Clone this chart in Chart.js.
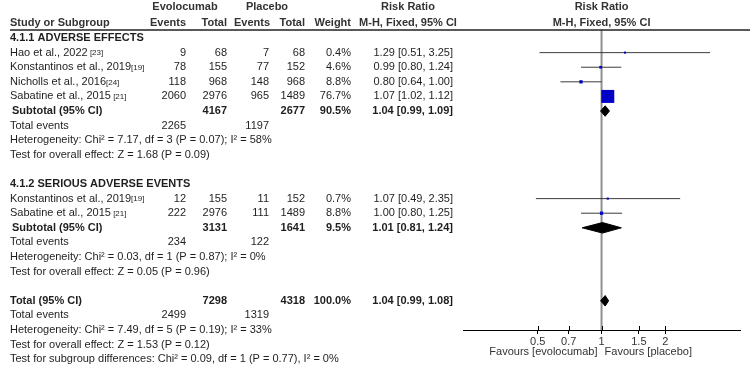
<!DOCTYPE html>
<html>
<head>
<meta charset="utf-8">
<script src="https://cdn.jsdelivr.net/npm/chart.js@4"></script>
<style>
html, body { margin: 0; padding: 0; background: #fff; }
</style>
</head>
<body>
<canvas id="forest" width="750" height="367"></canvas>
<script>
// study level data
var groups = ['4.1.1 ADVERSE EFFECTS', '4.1.2 SERIOUS ADVERSE EVENTS'];
var studies = ['Hao et al., 2022', 'Konstantinos et al., 2019', 'Nicholls et al., 2016', 'Sabatine et al., 2015',
               'Konstantinos et al., 2019', 'Sabatine et al., 2015'];
var refs = [' [23]', '[19]', '[24]', ' [21]', '[19]', ' [21]'];
var studyGroup = [0, 0, 0, 0, 1, 1];
var evoEvents = [9, 78, 118, 2060, 12, 222];
var evoTotal = [68, 155, 968, 2976, 155, 2976];
var plcEvents = [7, 77, 148, 965, 11, 111];
var plcTotal = [68, 152, 968, 1489, 152, 1489];
var weights = [0.4, 4.6, 8.8, 76.7, 0.7, 8.8];
var rr = [1.29, 0.99, 0.80, 1.07, 1.07, 1.00];
var rrLow = [0.51, 0.80, 0.64, 1.02, 0.49, 0.80];
var rrHigh = [3.25, 1.24, 1.00, 1.12, 2.35, 1.25];

// subtotals (two groups) + overall total
var sumLabels = ['Subtotal (95% CI)', 'Subtotal (95% CI)', 'Total (95% CI)'];
var sumEvoTotal = [4167, 3131, 7298];
var sumPlcTotal = [2677, 1641, 4318];
var sumWeight = [90.5, 9.5, 100.0];
var sumRR = [1.04, 1.01, 1.04];
var sumLow = [0.99, 0.81, 0.99];
var sumHigh = [1.09, 1.24, 1.08];
var sumEvoEvents = [2265, 234, 2499];
var sumPlcEvents = [1197, 122, 1319];
var heterogeneity = ['Heterogeneity: Chi\u00b2 = 7.17, df = 3 (P = 0.07); I\u00b2 = 58%',
                     'Heterogeneity: Chi\u00b2 = 0.03, df = 1 (P = 0.87); I\u00b2 = 0%',
                     'Heterogeneity: Chi\u00b2 = 7.49, df = 5 (P = 0.19); I\u00b2 = 33%'];
var overallTests = ['Test for overall effect: Z = 1.68 (P = 0.09)',
                    'Test for overall effect: Z = 0.05 (P = 0.96)',
                    'Test for overall effect: Z = 1.53 (P = 0.12)'];
var subgroupTest = 'Test for subgroup differences: Chi\u00b2 = 0.09, df = 1 (P = 0.77), I\u00b2 = 0%';

var xTicks = [0.5, 0.7, 1, 1.5, 2];
var favours = ['Favours [evolocumab]', 'Favours [placebo]'];

var FONT = '"Liberation Sans", Arial, sans-serif';
var TXT = '#1e1e1e';



// build the row list, one entry per line of the table
var rows = [];
groups.forEach(function (g, gi) {
    rows.push({kind: 'group', i: gi});
    studyGroup.forEach(function (sg, si) {
        if (sg == gi) rows.push({kind: 'study', i: si});
    });
    rows.push({kind: 'sum', i: gi});
    rows.push({kind: 'events', i: gi});
    rows.push({kind: 'het', i: gi});
    rows.push({kind: 'test', i: gi});
    rows.push({kind: 'blank'});
});
rows.push({kind: 'sum', i: 2});
rows.push({kind: 'events', i: 2});
rows.push({kind: 'het', i: 2});
rows.push({kind: 'test', i: 2});
rows.push({kind: 'subgroup'});

function rowOf(kind, i) {
    for (var r = 0; r < rows.length; ++r) {
        if (rows[r].kind == kind && rows[r].i == i) return r;
    }
    return -1;
}

function fmt(v) { return v.toFixed(2); }
function rrText(e, l, h) { return fmt(e) + ' [' + fmt(l) + ', ' + fmt(h) + ']'; }

// datasets
var datasets = [];

// line of no effect
datasets.push({
    data: [{x: 1, y: -0.55}, {x: 1, y: 20}],
    showLine: true, borderColor: '#909090', borderWidth: 2, pointRadius: 0, order: 3
});

// confidence intervals
studies.forEach(function (s, si) {
    var r = rowOf('study', si);
    datasets.push({
        data: [{x: rrLow[si], y: r}, {x: rrHigh[si], y: r}],
        showLine: true, borderColor: '#3c3c3c', borderWidth: 1, pointRadius: 0, order: 2
    });
});

// weighted squares
datasets.push({
    data: studies.map(function (s, si) { return {x: rr[si], y: rowOf('study', si)}; }),
    pointStyle: 'rect',
    pointRadius: weights.map(function (w) { return (2 + 11 * w / 76.7) / Math.SQRT2; }),
    backgroundColor: '#0000c8', borderWidth: 0, order: 0
});

// diamonds for pooled estimates
sumLabels.forEach(function (s, k) {
    var r = rowOf('sum', k);
    var h = 0.36;
    datasets.push({
        data: [{x: sumLow[k], y: r}, {x: sumRR[k], y: r - h}, {x: sumHigh[k], y: r},
               {x: sumRR[k], y: r + h}, {x: sumLow[k], y: r}],
        showLine: true, fill: 'shape', backgroundColor: '#000', borderColor: '#000',
        borderWidth: 1, pointRadius: 0, order: 1
    });
});



function txt(ctx, s, x, y, align, bold, size) {
    ctx.font = (bold ? 'bold ' : '') + (size || 11) + 'px ' + FONT;
    ctx.textAlign = align || 'left';
    ctx.fillText(s, x, y);
}

var tablePlugin = {
    id: 'table',
    afterDraw: function (chart) {
        var ctx = chart.ctx;
        var ys = chart.scales.y, xs = chart.scales.x;
        var top = chart.chartArea.top, bottom = chart.chartArea.bottom;
        var one = xs.getPixelForValue(1);

        ctx.save();
        ctx.fillStyle = '#333';
        ctx.textBaseline = 'middle';

        // header
        txt(ctx, 'Evolocumab', 185, top - 23, 'center', true);
        txt(ctx, 'Placebo', 267, top - 23, 'center', true);
        txt(ctx, 'Risk Ratio', 408, top - 23, 'center', true);
        txt(ctx, 'Risk Ratio', one, top - 23, 'center', true);
        txt(ctx, 'Study or Subgroup', 10, top - 7, 'left', true);
        txt(ctx, 'Events', 186, top - 7, 'right', true);
        txt(ctx, 'Total', 227, top - 7, 'right', true);
        txt(ctx, 'Events', 270, top - 7, 'right', true);
        txt(ctx, 'Total', 305, top - 7, 'right', true);
        txt(ctx, 'Weight', 351, top - 7, 'right', true);
        txt(ctx, 'M-H, Fixed, 95% CI', 408, top - 7, 'center', true);
        txt(ctx, 'M-H, Fixed, 95% CI', one, top - 7, 'center', true);

        ctx.strokeStyle = '#222';
        ctx.lineWidth = 1.5;
        ctx.beginPath();
        ctx.moveTo(10, top);
        ctx.lineTo(750, top);
        ctx.stroke();

        // tick marks cross the axis line
        ctx.strokeStyle = '#000';
        ctx.lineWidth = 1;
        xTicks.forEach(function (v) {
            var px = Math.round(xs.getPixelForValue(v)) + 0.5;
            ctx.beginPath();
            ctx.moveTo(px, bottom - 4);
            ctx.lineTo(px, bottom);
            ctx.stroke();
        });

        ctx.fillStyle = TXT;
        rows.forEach(function (row, r) {
            var y = ys.getPixelForValue(r);
            var i = row.i;
            if (row.kind == 'group') {
                txt(ctx, groups[i], 10, y, 'left', true);
            } else if (row.kind == 'study') {
                txt(ctx, studies[i], 10, y, 'left');
                var w = ctx.measureText(studies[i]).width;
                txt(ctx, refs[i], 10 + w, y + 0.5, 'left', false, 8);
                txt(ctx, String(evoEvents[i]), 186, y, 'right');
                txt(ctx, String(evoTotal[i]), 227, y, 'right');
                txt(ctx, String(plcEvents[i]), 269, y, 'right');
                txt(ctx, String(plcTotal[i]), 305, y, 'right');
                txt(ctx, weights[i].toFixed(1) + '%', 351, y, 'right');
                txt(ctx, rrText(rr[i], rrLow[i], rrHigh[i]), 453, y, 'right');
            } else if (row.kind == 'sum') {
                txt(ctx, sumLabels[i], i < 2 ? 12 : 10, y, 'left', true);
                txt(ctx, String(sumEvoTotal[i]), 227, y, 'right', true);
                txt(ctx, String(sumPlcTotal[i]), 305, y, 'right', true);
                txt(ctx, sumWeight[i].toFixed(1) + '%', 351, y, 'right', true);
                txt(ctx, rrText(sumRR[i], sumLow[i], sumHigh[i]), 453, y, 'right', true);
            } else if (row.kind == 'events') {
                txt(ctx, 'Total events', 10, y, 'left');
                txt(ctx, String(sumEvoEvents[i]), 186, y, 'right');
                txt(ctx, String(sumPlcEvents[i]), 269, y, 'right');
            } else if (row.kind == 'het') {
                txt(ctx, heterogeneity[i], 10, y, 'left');
            } else if (row.kind == 'test') {
                txt(ctx, overallTests[i], 10, y, 'left');
            } else if (row.kind == 'subgroup') {
                txt(ctx, subgroupTest, 10, y, 'left');
            }
        });

        // favours labels under the axis
        ctx.fillStyle = '#333';
        txt(ctx, favours[0], one - 4, 352, 'right');
        txt(ctx, favours[1], one + 3, 352, 'left');
        ctx.restore();
    }
};



document.addEventListener('DOMContentLoaded', function () {
    var canvas = document.getElementById('forest');

    new Chart(canvas, {
        type: 'scatter',
        data: {datasets: datasets},
        options: {
            responsive: false,
            animation: false,
            layout: {padding: {left: 463, right: 10, top: 30, bottom: 0}},
            plugins: {legend: {display: false}, tooltip: {enabled: false}},
            scales: {
                x: {
                    type: 'logarithmic',
                    min: 0.222,
                    max: 4.5,
                    afterBuildTicks: function (scale) {
                        scale.ticks = xTicks.map(function (v) { return {value: v}; });
                    },
                    afterFit: function (scale) { scale.height = 37; },
                    ticks: {
                        autoSkip: false, maxRotation: 0, padding: 1, color: '#333',
                        font: {family: FONT, size: 11},
                        callback: function (v) { return String(v); }
                    },
                    grid: {drawOnChartArea: false, tickLength: 4, color: '#000'},
                    border: {color: '#000', width: 1}
                },
                y: {
                    type: 'linear',
                    display: false,
                    reverse: true,
                    min: -0.55,
                    max: 20
                }
            }
        },
        plugins: [tablePlugin]
    });
});
</script>
</body>
</html>
